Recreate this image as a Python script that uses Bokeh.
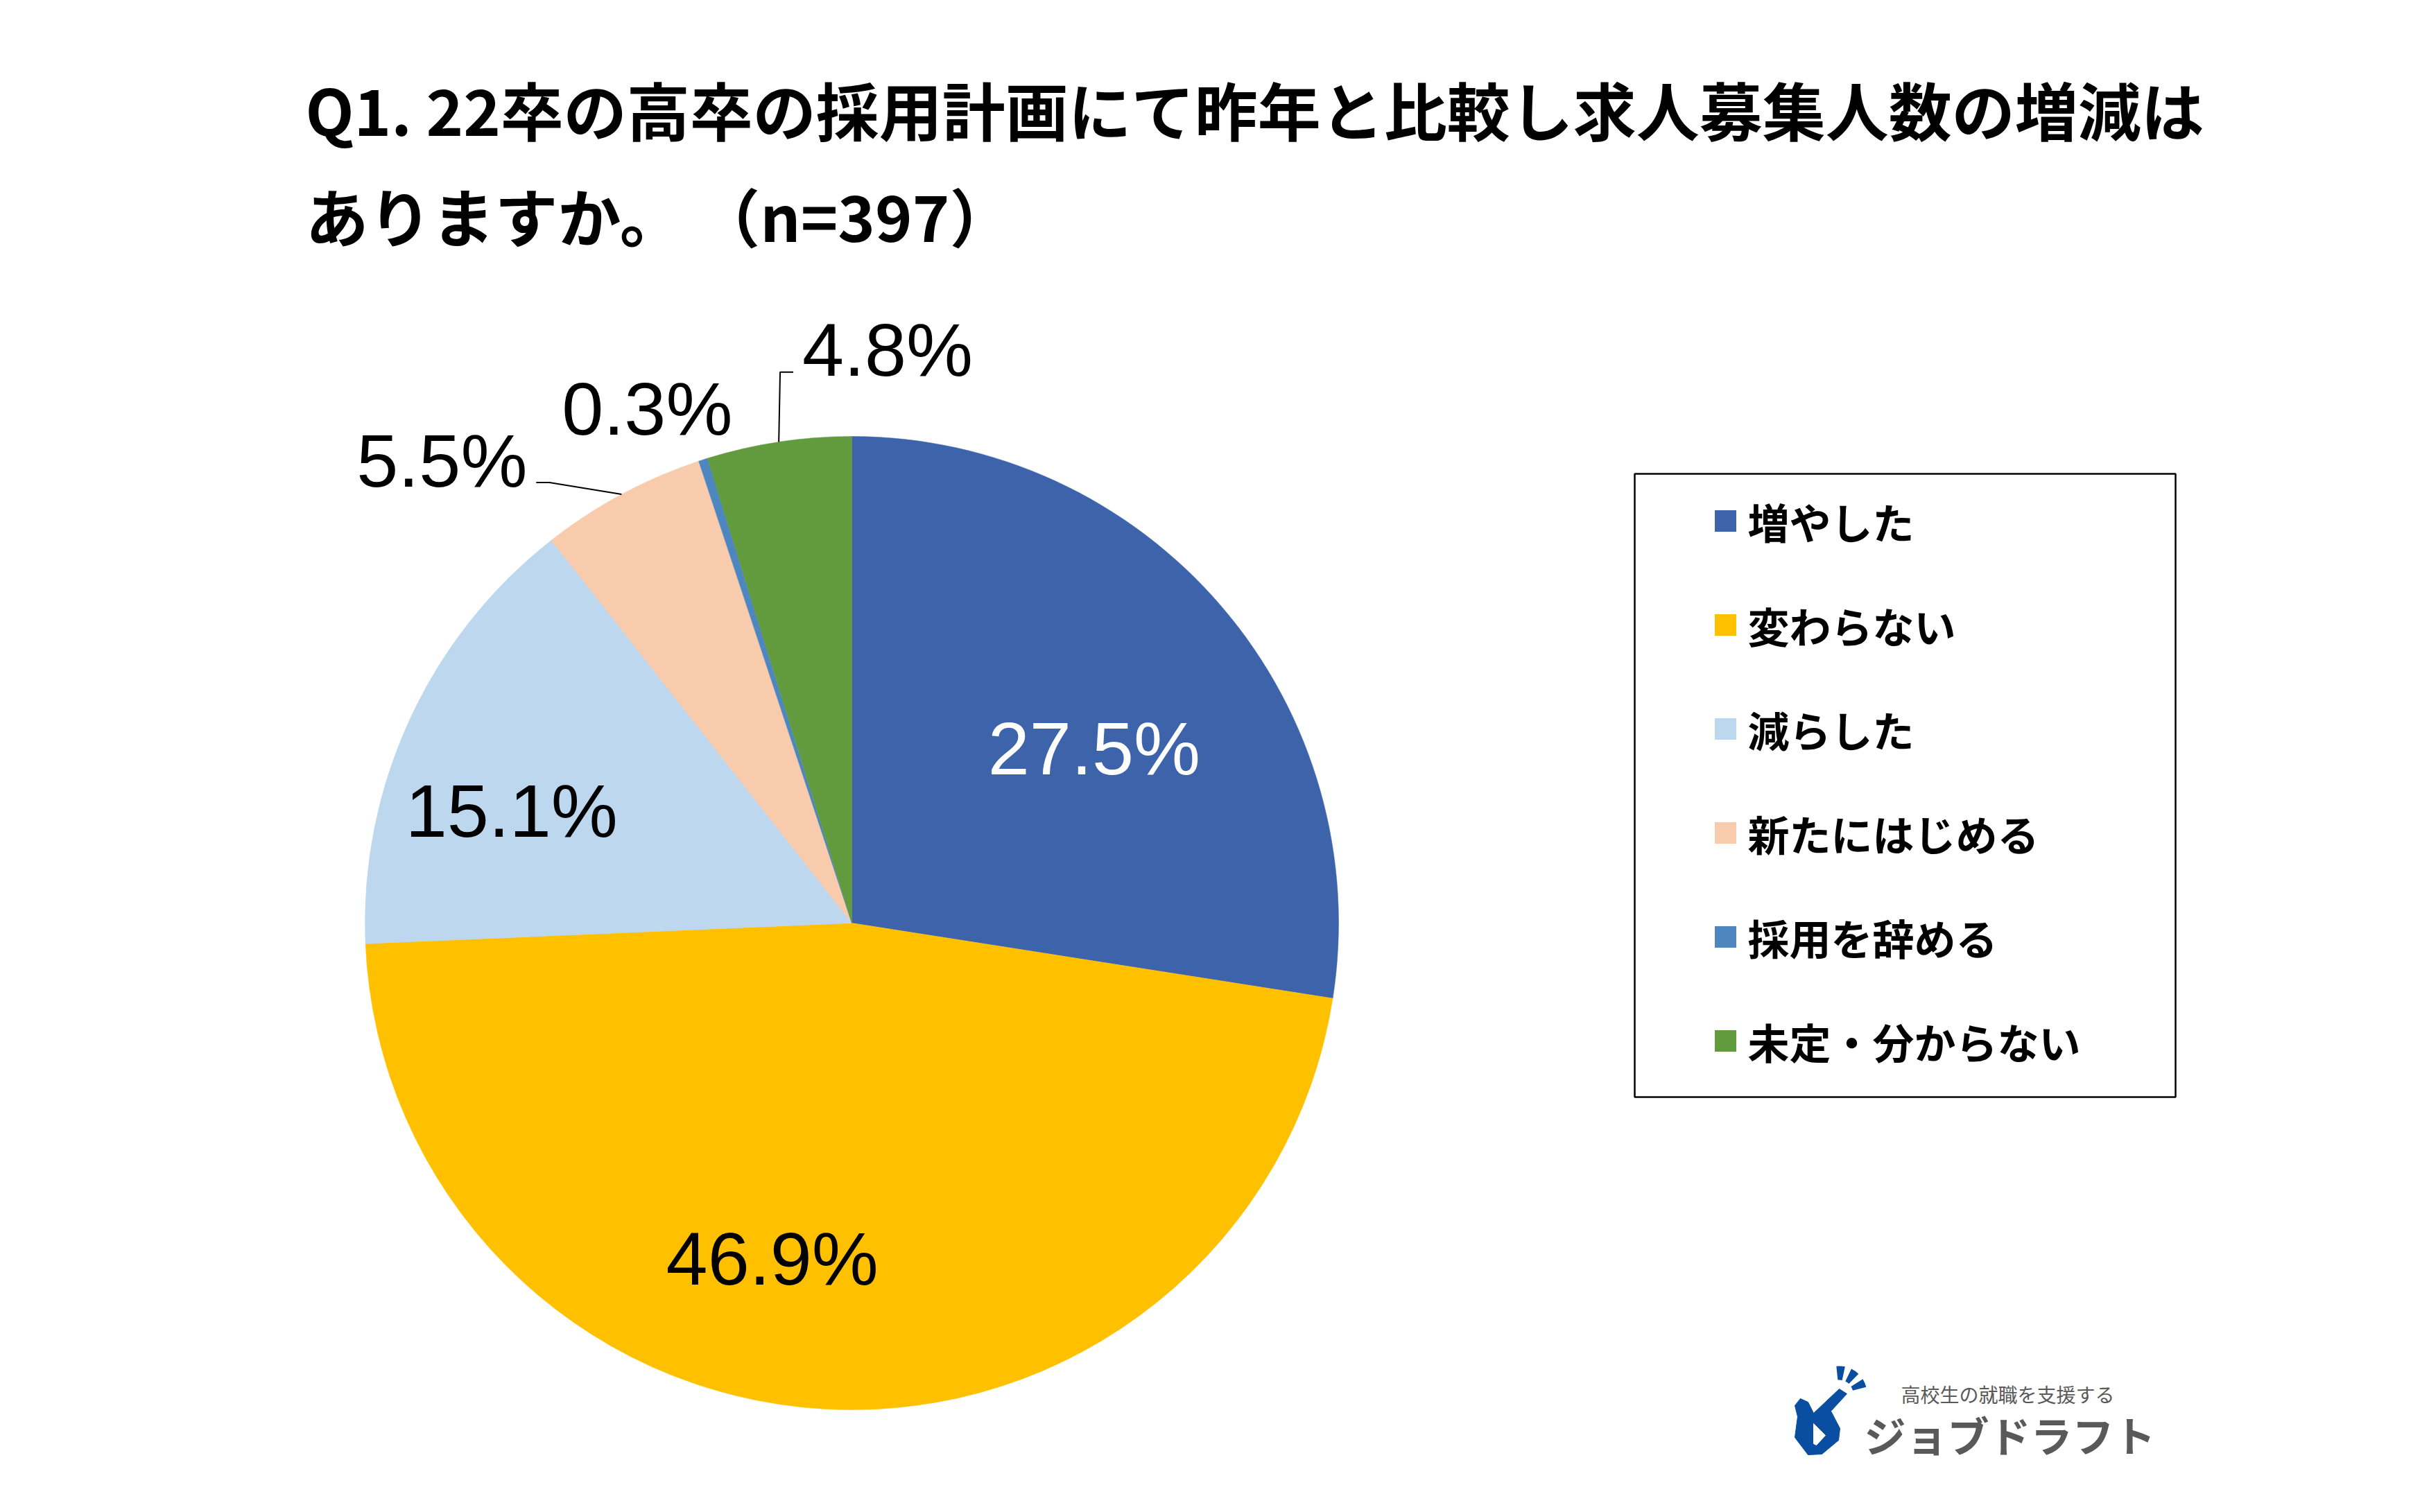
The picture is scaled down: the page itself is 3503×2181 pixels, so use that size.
import math
from bokeh.plotting import figure
from bokeh.models import Range1d
from bokeh.core.properties import value
from bokeh.embed import file_html
from bokeh.resources import INLINE

# ---- data ----
categories = ["増やした", "変わらない", "減らした", "新たにはじめる", "採用を辞める", "未定・分からない"]
shares = [27.5, 46.9, 15.1, 5.5, 0.3, 4.8]
labels = ["27.5%", "46.9%", "15.1%", "5.5%", "0.3%", "4.8%"]
colors = ["#3D64AB", "#FFC000", "#BDD7EE", "#F8CBAD", "#4E87C0", "#629A3E"]
label_colors = ["white", "black", "black", "black", "black", "black"]
title_lines = ["Q1. 22卒の高卒の採用計画にて昨年と比較し求人募集人数の増減は", "ありますか。 （n=397）"]

# ---- layout ----
W, H = 3503, 2181
def Y(y):
    return H - y

CX, CY, R = 1228, 1331, 702
# label placement: radius fraction and angular nudge (deg) from slice mid angle
label_rfrac = [0.614, 0.709, 0.736, 1.27, 1.137, 1.18]
label_nudge = [4.7, 10.1, -6.5, -13.3, -3.9, 12.2]

JP = value("Noto Sans CJK JP")
NUM = value("Liberation Sans")

p = figure(width=W, height=H, output_backend="svg", toolbar_location=None,
           x_range=Range1d(0, W), y_range=Range1d(0, H),
           x_axis_location=None, y_axis_location=None, min_border=0)
p.outline_line_color = None
p.grid.visible = False
p.background_fill_color = "white"

total = sum(shares)
cum = 0.0
starts, ends, mids = [], [], []
for v in shares:
    a0 = cum / total
    cum += v
    a1 = cum / total
    starts.append(math.pi / 2 - 2 * math.pi * a0)
    ends.append(math.pi / 2 - 2 * math.pi * a1)
    mids.append(360.0 * (a0 + a1) / 2)  # degrees clockwise from top

p.wedge(x=[CX] * len(shares), y=[Y(CY)] * len(shares), radius=R,
        start_angle=starts, end_angle=ends, direction="clock",
        fill_color=colors, line_color=colors, line_width=0.5)

# data labels
lx, ly = [], []
for m, rf, nd in zip(mids, label_rfrac, label_nudge):
    t = math.radians(m + nd)
    lx.append(CX + rf * R * math.sin(t))
    ly.append(Y(CY - rf * R * math.cos(t)))
p.text(x=lx, y=ly, text=labels, text_color=label_colors, text_font=NUM,
       text_font_size="108px", text_align="center", text_baseline="middle")

# leader lines for outside labels with lines (5.5% and 4.8%)
for idx, side in ((3, 1), (5, -1)):
    t = math.radians(mids[idx])
    ex, ey = CX + R * math.sin(t), CY - R * math.cos(t)
    sx = lx[idx] + side * 136
    sy = Y(ly[idx]) + 32
    bx = sx + side * 19
    p.line(x=[sx, bx, ex], y=[Y(sy), Y(sy), Y(ey)], line_color="black", line_width=2)

# title
p.text(x=[440, 440], y=[Y(155), Y(308)], text=title_lines, text_font=JP,
       text_font_style="bold", text_font_size="91px", text_color="black",
       text_align="left", text_baseline="middle")

# legend box
LX0, LX1, LY0, LY1 = 2357, 3137, 683, 1582
p.quad(left=[LX0], right=[LX1], top=[Y(LY0)], bottom=[Y(LY1)],
       fill_color=None, line_color="black", line_width=2.5)
row_y = [Y(751 + 150 * i) for i in range(len(categories))]
p.rect(x=[2488] * len(categories), y=row_y, width=31, height=31,
       fill_color=colors, line_color=None)
p.text(x=[2520] * len(categories), y=row_y, text=categories, text_font=JP,
       text_font_style="bold", text_font_size="60px", text_color="black",
       text_align="left", text_baseline="middle")

# logo (approximation)
body = [(2596, 2017), (2607, 2022), (2615, 2038), (2652, 2003), (2663, 2010),
        (2640, 2035), (2653, 2060), (2651, 2077), (2627, 2097), (2607, 2098),
        (2588, 2073), (2592, 2043), (2588, 2027)]
p.patch(x=[a for a, b in body], y=[Y(b) for a, b in body], fill_color="#0A4EA2", line_color="#0A4EA2")
hole = [(2615, 2053), (2632, 2070), (2619, 2084), (2615, 2082)]
p.patch(x=[a for a, b in hole], y=[Y(b) for a, b in hole], fill_color="white", line_color="white")
p.annular_wedge(x=[2652] * 3, y=[Y(2010)] * 3, inner_radius=20, outer_radius=40,
                start_angle=[math.radians(a) for a in (78, 46, 14)],
                end_angle=[math.radians(a) for a in (96, 64, 32)],
                fill_color="#0A4EA2", line_color=None)
p.text(x=[2741], y=[Y(2010)], text=["高校生の就職を支援する"], text_font=JP,
       text_font_size="28px", text_color="#595959", text_align="left", text_baseline="middle")
p.text(x=[2688], y=[Y(2068)], text=["ジョブドラフト"], text_font=JP, text_font_style="bold",
       text_font_size="60px", text_color="#595959", text_align="left", text_baseline="middle")

open("out.html", "w").write(file_html(p, INLINE))
